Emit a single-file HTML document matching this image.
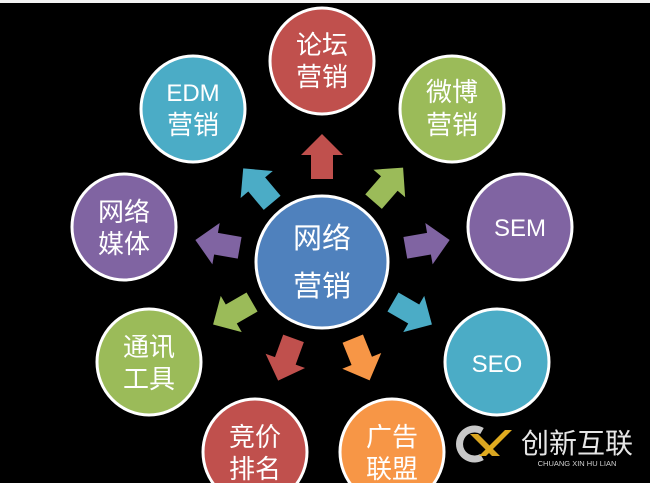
<!DOCTYPE html>
<html><head><meta charset="utf-8"><style>
html,body{margin:0;padding:0;background:#000;}
svg{display:block;}
text{font-family:"Liberation Sans","Noto Sans CJK SC",sans-serif;fill:#fff;text-anchor:middle;}
</style></head><body>
<svg width="650" height="483" viewBox="0 0 650 483" xmlns="http://www.w3.org/2000/svg">
<rect width="650" height="483" fill="#000"/>
<rect width="650" height="3" fill="#f2f2f2"/>
<defs>
<polygon id="ar" points="-22,-11 2,-11 2,-21 23,0 2,21 2,11 -22,11"/>
</defs>
<!-- arrows -->
<use href="#ar" fill="#c0504d" transform="translate(322,157) rotate(-90)"/>
<use href="#ar" fill="#4bacc6" transform="translate(258,186) rotate(-130)"/>
<use href="#ar" fill="#9bbb59" transform="translate(388,185) rotate(-49)"/>
<use href="#ar" fill="#8064a2" transform="translate(218,244) rotate(-170)"/>
<use href="#ar" fill="#8064a2" transform="translate(427,244) rotate(-10)"/>
<use href="#ar" fill="#9bbb59" transform="translate(233,313) rotate(150)"/>
<use href="#ar" fill="#4bacc6" transform="translate(412,313) rotate(30)"/>
<use href="#ar" fill="#c0504d" transform="translate(286,359) rotate(110)"/>
<use href="#ar" fill="#f79646" transform="translate(361,359) rotate(68)"/>
<!-- circles -->
<g stroke="#fff" stroke-width="3">
<ellipse cx="322" cy="61" rx="52" ry="53" fill="#c0504d"/>
<ellipse cx="193" cy="109" rx="52" ry="53" fill="#4bacc6"/>
<ellipse cx="452" cy="109" rx="52" ry="53" fill="#9bbb59"/>
<ellipse cx="124" cy="227" rx="52" ry="53" fill="#8064a2"/>
<ellipse cx="520" cy="227" rx="52" ry="53" fill="#8064a2"/>
<ellipse cx="322" cy="262" rx="66" ry="66" fill="#4f81bd"/>
<ellipse cx="149" cy="362" rx="52" ry="53" fill="#9bbb59"/>
<ellipse cx="497" cy="362" rx="52" ry="53" fill="#4bacc6"/>
<ellipse cx="255" cy="452" rx="52" ry="53" fill="#c0504d"/>
<ellipse cx="392" cy="452" rx="52" ry="53" fill="#f79646"/>
</g>
<!-- labels -->
<g font-size="26">
<text x="322" y="54">论坛</text><text x="322" y="86">营销</text>
<text x="193" y="101" font-size="24">EDM</text><text x="193" y="134">营销</text>
<text x="452" y="101">微博</text><text x="452" y="134">营销</text>
<text x="124" y="221">网络</text><text x="124" y="253">媒体</text>
<text x="520" y="236" font-size="24">SEM</text>
<text x="149" y="356">通讯</text><text x="149" y="388">工具</text>
<text x="497" y="372" font-size="24">SEO</text>
<text x="255" y="446">竞价</text><text x="255" y="478">排名</text>
<text x="392" y="446">广告</text><text x="392" y="478">联盟</text>
</g>
<text x="322" y="248" font-size="29">网络</text>
<text x="322" y="296" font-size="29">营销</text>
<!-- logo -->
<path d="M482 431 A15 15 0 1 0 482 457" fill="none" stroke="#c8c8c8" stroke-width="7"/>
<polygon points="470,434 478,434 500,456 492,456" fill="#d9a520"/>
<polygon points="505,430 512,430 486,456 479,456" fill="#e0ab1f"/>
<text x="577" y="453" font-size="28" style="fill:#e6e6e6">创新互联</text>
<text x="577" y="466" font-size="7.5" style="fill:#cfcfcf">CHUANG XIN HU LIAN</text>
</svg>
</body></html>
